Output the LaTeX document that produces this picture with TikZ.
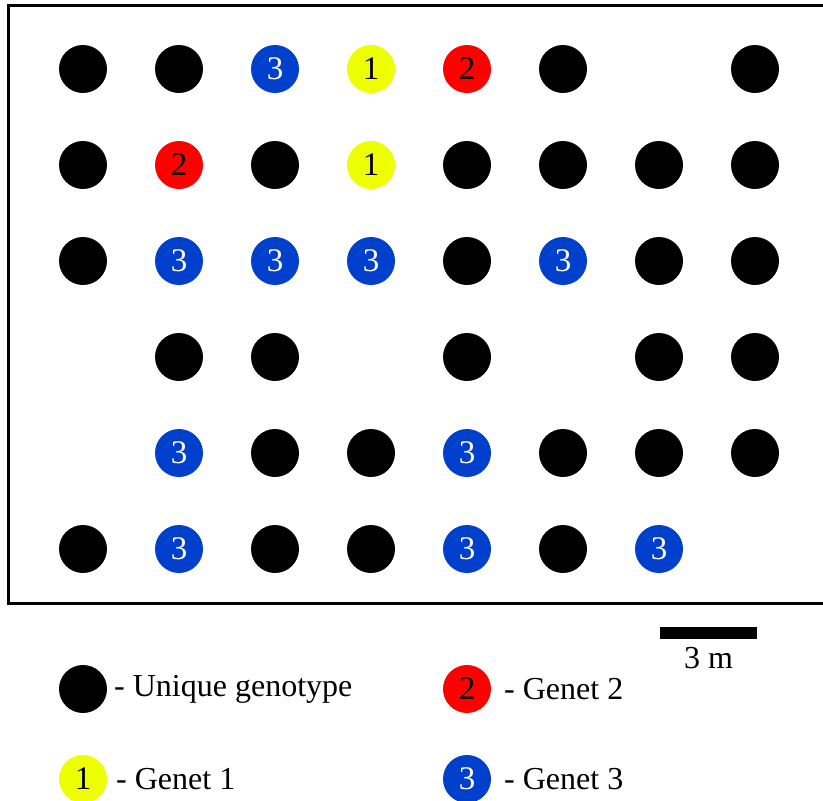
\documentclass[tikz,border=0pt]{standalone}
\usepackage{fontspec}
\setmainfont{Liberation Serif}
\definecolor{gblue}{RGB}{0,64,204}
\definecolor{gyellow}{RGB}{238,255,0}
\definecolor{gred}{RGB}{255,0,0}
\tikzset{
  plant/.style={circle,minimum size=48pt,inner sep=0pt,font=\fontsize{33}{33}\selectfont},
  uniq/.style={plant,fill=black},
  gone/.style={plant,fill=gyellow,text=black},
  gtwo/.style={plant,fill=gred,text=black},
  gthree/.style={plant,fill=gblue,text=white},
  legtext/.style={anchor=west,inner sep=0pt,font=\fontsize{32}{32}\selectfont},
}
\begin{document}
\begin{tikzpicture}[x=1pt,y=-1pt]
\useasboundingbox (0,0) rectangle (823,801);
\draw[line width=3pt] (840,5.5) -- (8.5,5.5) -- (8.5,603.5) -- (840,603.5);
% grid
\foreach \r/\y in {1/69,2/165,3/261,4/357,5/453,6/549}{
  \foreach \c/\x in {1/83,2/179,3/275,4/371,5/467,6/563,7/659,8/755}{
    \coordinate (p\r\c) at (\x,\y);
  }
}
% row 1
\node[uniq] (a11) at (p11) {};
\node[uniq] (a12) at (p12) {};
\node[gthree] (a13) at (p13) {3};
\node[gone] (a14) at (p14) {1};
\node[gtwo] (a15) at (p15) {2};
\node[uniq] (a16) at (p16) {};
\node[uniq] (a18) at (p18) {};
% row 2
\node[uniq] (a21) at (p21) {};
\node[gtwo] (a22) at (p22) {2};
\node[uniq] (a23) at (p23) {};
\node[gone] (a24) at (p24) {1};
\node[uniq] (a25) at (p25) {};
\node[uniq] (a26) at (p26) {};
\node[uniq] (a27) at (p27) {};
\node[uniq] (a28) at (p28) {};
% row 3
\node[uniq] (a31) at (p31) {};
\node[gthree] (a32) at (p32) {3};
\node[gthree] (a33) at (p33) {3};
\node[gthree] (a34) at (p34) {3};
\node[uniq] (a35) at (p35) {};
\node[gthree] (a36) at (p36) {3};
\node[uniq] (a37) at (p37) {};
\node[uniq] (a38) at (p38) {};
% row 4
\node[uniq] (a42) at (p42) {};
\node[uniq] (a43) at (p43) {};
\node[uniq] (a45) at (p45) {};
\node[uniq] (a47) at (p47) {};
\node[uniq] (a48) at (p48) {};
% row 5
\node[gthree] (a52) at (p52) {3};
\node[uniq] (a53) at (p53) {};
\node[uniq] (a54) at (p54) {};
\node[gthree] (a55) at (p55) {3};
\node[uniq] (a56) at (p56) {};
\node[uniq] (a57) at (p57) {};
\node[uniq] (a58) at (p58) {};
% row 6
\node[uniq] (a61) at (p61) {};
\node[gthree] (a62) at (p62) {3};
\node[uniq] (a63) at (p63) {};
\node[uniq] (a64) at (p64) {};
\node[gthree] (a65) at (p65) {3};
\node[uniq] (a66) at (p66) {};
\node[gthree] (a67) at (p67) {3};
% scale bar
\node[fill=black,minimum width=97pt,minimum height=12pt,inner sep=0pt] (bar) at (708.5,633) {};
\node[anchor=north,inner sep=0pt,font=\fontsize{32}{32}\selectfont] (barlab) at ([yshift=-8pt]bar.south) {3 m};
% legend
\node[uniq] (lu) at (83,689) {};
\node[legtext] (lut) at (114,689) {- Unique genotype};
\node[gone] (l1) at (83,779) {1};
\node[legtext] (l1t) at (116,779) {- Genet 1};
\node[gtwo] (l2) at (467,689) {2};
\node[legtext] (l2t) at (504,689) {- Genet 2};
\node[gthree] (l3) at (467,779) {3};
\node[legtext] (l3t) at (504,779) {- Genet 3};
\end{tikzpicture}
\end{document}
